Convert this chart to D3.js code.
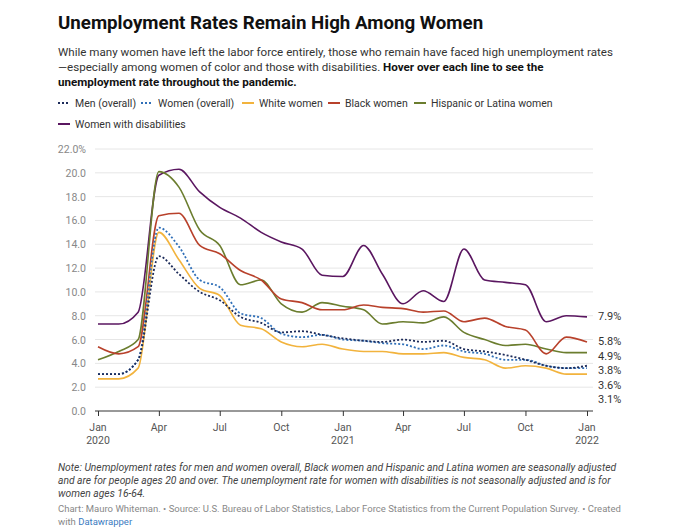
<!DOCTYPE html>
<html lang="en">
<head>
<meta charset="UTF-8">
<script src="https://d3js.org/d3.v7.min.js"></script>
<style>
  body { margin: 0; background: #fff; font-family: Roboto, "Noto Sans", sans-serif; }
</style>
</head>
<body>
<svg width="680" height="530"></svg>
<script>
    // monthly, Jan 2020 .. Jan 2022
    var months = d3.range(25).map(function(i) { return new Date(2020, i, 1); });

    var menOverall   = [3.1,3.1,4.3,13.0,11.5,10.0,9.3,7.9,7.4,6.6,6.7,6.4,6.1,5.9,5.8,6.0,5.8,5.9,5.2,5.0,4.7,4.3,3.8,3.6,3.8];
    var womenOverall = [3.1,3.1,4.3,15.4,13.8,11.0,10.4,8.2,7.8,6.5,6.2,6.4,6.0,5.9,5.7,5.6,5.2,5.5,5.0,4.8,4.3,4.3,3.8,3.6,3.6];
    var whiteWomen   = [2.7,2.7,3.6,15.0,12.7,10.3,9.7,7.2,6.9,5.8,5.4,5.6,5.2,5.0,5.0,4.8,4.8,4.9,4.5,4.3,3.6,3.8,3.6,3.1,3.1];
    var blackWomen   = [5.4,4.8,5.4,16.4,16.6,13.9,13.2,11.8,11.0,9.4,9.1,8.5,8.5,8.9,8.7,8.6,8.3,8.4,7.5,7.8,7.1,6.8,4.8,6.2,5.8];
    var latinaWomen  = [4.3,5.0,6.0,20.1,18.8,15.2,13.9,10.6,11.0,9.0,8.3,9.1,8.8,8.5,7.3,7.5,7.4,7.9,6.6,6.0,5.5,5.6,5.2,4.9,4.9];
    var disabled     = [7.3,7.3,8.3,19.8,20.3,18.4,17.1,16.2,15.0,14.2,13.6,11.4,11.3,13.9,11.5,9.0,10.1,9.2,13.6,11.0,10.8,10.6,7.5,8.0,7.9];

    var seriesNames  = ["Men (overall)", "Women (overall)", "White women", "Black women", "Hispanic or Latina women", "Women with disabilities"];
    var seriesValues = [menOverall, womenOverall, whiteWomen, blackWomen, latinaWomen, disabled];
    var seriesColors = ["#1c2b5a", "#2f6fb8", "#f2b33d", "#b8412b", "#6b7d2e", "#5a1660"];
    var seriesDashed = [true, true, false, false, false, false];

    var yTicks = [0, 2, 4, 6, 8, 10, 12, 14, 16, 18, 20, 22];

    var svg = d3.select("svg");
    var left = 58;

    // title + subtitle
    svg.append("text").attr("x", left).attr("y", 29)
        .attr("font-size", 18.7).attr("font-weight", 700).attr("fill", "#111")
        .text("Unemployment Rates Remain High Among Women");
    var sub = svg.append("g").attr("font-size", 11.6).attr("fill", "#333");
    sub.append("text").attr("x", left).attr("y", 56)
        .text("While many women have left the labor force entirely, those who remain have faced high unemployment rates");
    var l2 = sub.append("text").attr("x", left).attr("y", 71);
    l2.append("tspan").text("\u2014especially among women of color and those with disabilities. ");
    l2.append("tspan").attr("font-weight", 700).attr("fill", "#111").text("Hover over each line to see the");
    sub.append("text").attr("x", left).attr("y", 86).attr("font-weight", 700).attr("fill", "#111")
        .text("unemployment rate throughout the pandemic.");

    // legend
    var legendPos = [[58, 107], [141, 107], [242, 107], [328, 107], [414, 107], [58, 128]];
    seriesNames.forEach(function(name, i) {
        var lg = svg.append("g").attr("transform", "translate(" + legendPos[i][0] + "," + legendPos[i][1] + ")");
        lg.append("line").attr("x1", 0).attr("x2", 12).attr("y1", -4).attr("y2", -4)
            .attr("stroke", seriesColors[i]).attr("stroke-width", 2)
            .attr("stroke-dasharray", seriesDashed[i] ? "2,2" : null);
        lg.append("text").attr("x", 17).attr("font-size", 10.5).attr("fill", "#333").text(name);
    });

    var margin = {left: 98, right: 93, top: 149, bottom: 119};
    var width = 680 - margin.left - margin.right,
        height = 530 - margin.top - margin.bottom;
    var g = svg.append("g").attr("transform", "translate(" + margin.left + "," + margin.top + ")");

    var x = d3.scaleTime().domain([months[0], months[24]]).range([0, width]);
    var y = d3.scaleLinear().domain([0, 22]).range([height, 0]);

    // grid + y labels
    g.selectAll(".grid").data(yTicks).enter().append("line")
        .attr("x1", -3).attr("x2", width + 6)
        .attr("y1", function(d) { return y(d); }).attr("y2", function(d) { return y(d); })
        .attr("stroke", function(d) { return d === 0 ? "#333" : "#e6e6e6"; })
        .attr("stroke-width", 1);
    g.selectAll(".ylab").data(yTicks).enter().append("text")
        .attr("x", -12).attr("y", function(d) { return y(d) + 4; })
        .attr("text-anchor", "end").attr("font-size", 10.5).attr("fill", "#888")
        .text(function(d, i) { return d.toFixed(1) + (i === yTicks.length - 1 ? "%" : ""); });

    // x axis
    var xTicks = d3.range(0, 25, 3).map(function(i) { return months[i]; });
    var xAxis = g.append("g").attr("transform", "translate(0," + height + ")")
        .call(d3.axisBottom(x).tickValues(xTicks).tickSize(5).tickFormat(""));
    xAxis.select(".domain").remove();
    xAxis.selectAll("line").attr("stroke", "#333");
    var fmt = d3.timeFormat("%b");
    xTicks.forEach(function(d) {
        var t = g.append("text").attr("x", x(d)).attr("y", height + 20)
            .attr("text-anchor", "middle").attr("font-size", 10.5).attr("fill", "#555");
        t.append("tspan").attr("x", x(d)).text(fmt(d));
        if (d.getMonth() === 0) t.append("tspan").attr("x", x(d)).attr("dy", 13).text(d.getFullYear());
    });

    // lines
    var line = d3.line()
        .x(function(d, i) { return x(months[i]); })
        .y(function(d) { return y(d); })
        .curve(d3.curveMonotoneX);
    var order = [5, 4, 3, 2, 1, 0];
    order.forEach(function(i) {
        g.append("path").datum(seriesValues[i])
            .attr("fill", "none").attr("stroke", seriesColors[i])
            .attr("stroke-width", seriesDashed[i] ? 1.8 : 1.6)
            .attr("stroke-dasharray", seriesDashed[i] ? "2,2" : null)
            .attr("d", line);
    });

    // end labels, pushed apart top-down
    var ends = seriesValues.map(function(v) { return v[24]; }).sort(function(a, b) { return b - a; });
    var lastY = -100;
    ends.forEach(function(v) {
        var ly = Math.max(y(v), lastY + 14.6);
        lastY = ly;
        g.append("text").attr("x", width + 11).attr("y", ly + 3)
            .attr("font-size", 11).attr("fill", "#333").text(v.toFixed(1) + "%");
    });

    // notes
    var note = svg.append("g").attr("font-size", 10.3).attr("fill", "#444").attr("font-style", "italic");
    ["Note: Unemployment rates for men and women overall, Black women and Hispanic and Latina women are seasonally adjusted",
     "and are for people ages 20 and over. The unemployment rate for women with disabilities is not seasonally adjusted and is for",
     "women ages 16-64."].forEach(function(s, i) {
        note.append("text").attr("x", left).attr("y", 471 + i * 13).text(s);
    });
    var cred = svg.append("g").attr("font-size", 9.5).attr("fill", "#888");
    cred.append("text").attr("x", left).attr("y", 512)
        .text("Chart: Mauro Whiteman. \u2022 Source: U.S. Bureau of Labor Statistics, Labor Force Statistics from the Current Population Survey. \u2022 Created");
    var c2 = cred.append("text").attr("x", left).attr("y", 525);
    c2.append("tspan").text("with ");
    c2.append("tspan").attr("fill", "#3a7bbf").text("Datawrapper");
</script>
</body>
</html>
